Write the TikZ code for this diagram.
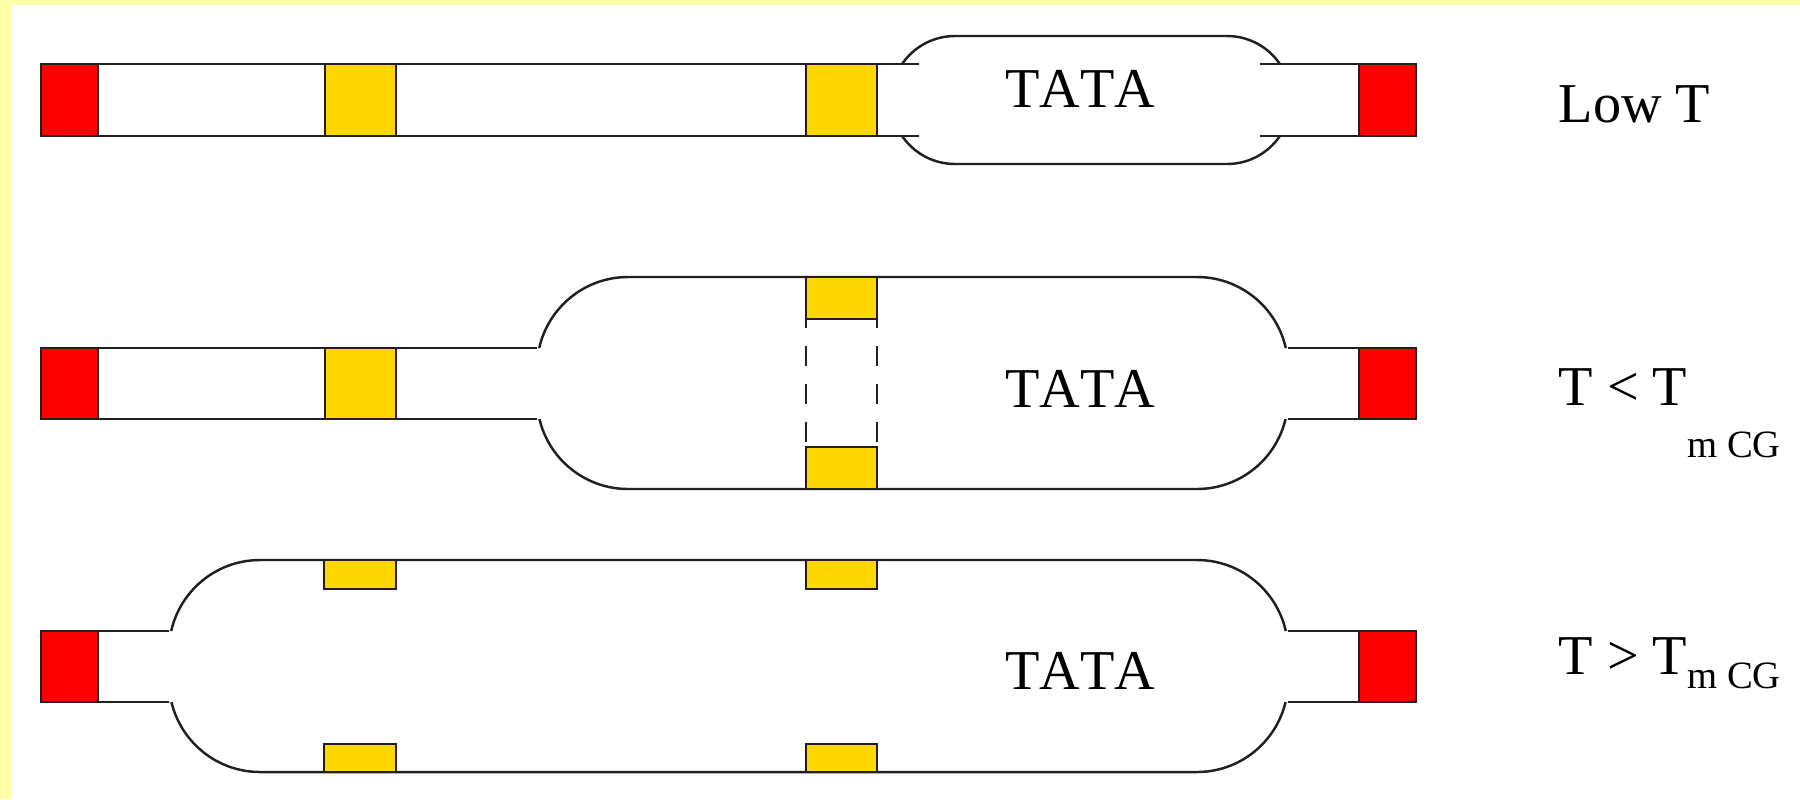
\documentclass[tikz,border=0pt]{standalone}
\usepackage{fontspec}
\setmainfont{Liberation Serif}[Kerning=Off]
\definecolor{bgyellow}{RGB}{255,255,165}
\definecolor{goldfill}{RGB}{255,215,0}
\definecolor{ink}{RGB}{35,31,32}
\tikzset{
  strand/.style={draw=ink, line width=0.7pt},
  redbox/.style={strand, fill=red},
  goldbox/.style={strand, fill=goldfill},
  bubble/.style={strand},
  melt/.style={strand, dash pattern=on 5.5pt off 5.3pt, dash phase=3pt},
  lbl/.style={font=\fontsize{16}{19}\selectfont, inner sep=0pt, anchor=base west},
  tata/.style={font=\fontsize{16}{19}\selectfont, inner sep=0pt, anchor=base},
}
\newcommand{\subCG}[1]{\raisebox{#1}{\fontsize{11}{13}\selectfont m CG}}
\begin{document}
\begin{tikzpicture}[x=0.01cm,y=0.01cm]
\useasboundingbox (0,0) rectangle (1800,-799);
\fill[white] (0,0) rectangle (1800,-799);
\fill[bgyellow] (0,0) rectangle (1800,-5);
\fill[bgyellow] (0,0) rectangle (11,-799);

% ---------- Row 1: Low T ----------
\begin{scope}
  \clip (0,0) rectangle (1800,-64) (0,-136) rectangle (1800,-799);
  \draw[bubble, rounded corners=0.64cm] (891,-36) rectangle (1291,-164);
\end{scope}
\draw[strand] (41,-64) -- (919,-64) (41,-136) -- (919,-136);
\draw[strand] (1260,-64) -- (1416,-64) (1260,-136) -- (1416,-136);
\draw[redbox] (41,-64) rectangle (98,-136);
\draw[goldbox] (325,-64) rectangle (396,-136);
\draw[goldbox] (806,-64) rectangle (877,-136);
\draw[redbox] (1359,-64) rectangle (1416,-136);
\node[tata] (tata1) at (1080,-107) {TATA};
\node[lbl] (lab1) at (1558,-122) {Low T};

% ---------- Row 2: T < Tm CG ----------
\begin{scope}
  \clip (0,0) rectangle (1800,-348) (0,-419) rectangle (1800,-799);
  \draw[bubble, rounded corners=0.91cm] (537,-277) rectangle (1288,-489);
\end{scope}
\draw[strand] (41,-348) -- (537,-348) (41,-419) -- (537,-419);
\draw[strand] (1288,-348) -- (1416,-348) (1288,-419) -- (1416,-419);
\draw[redbox] (41,-348) rectangle (98,-419);
\draw[goldbox] (325,-348) rectangle (396,-419);
\draw[goldbox] (806,-277) rectangle (877,-319);
\draw[goldbox] (806,-447) rectangle (877,-489);
\draw[melt] (806,-319) -- (806,-447);
\draw[melt] (877,-319) -- (877,-447);
\draw[redbox] (1359,-348) rectangle (1416,-419);
\node[tata] (tata2) at (1080,-407) {TATA};
\node[lbl] (lab2) at (1558,-405) {T < T\subCG{-15pt}};

% ---------- Row 3: T > Tm CG ----------
\begin{scope}
  \clip (0,0) rectangle (1800,-631) (0,-702) rectangle (1800,-799);
  \draw[bubble, rounded corners=0.91cm] (169,-560) rectangle (1288,-772);
\end{scope}
\draw[strand] (41,-631) -- (169,-631) (41,-702) -- (169,-702);
\draw[strand] (1288,-631) -- (1416,-631) (1288,-702) -- (1416,-702);
\draw[redbox] (41,-631) rectangle (98,-702);
\draw[goldbox] (324,-560) rectangle (396,-589);
\draw[goldbox] (806,-560) rectangle (877,-589);
\draw[goldbox] (324,-744) rectangle (396,-772);
\draw[goldbox] (806,-744) rectangle (877,-772);
\draw[redbox] (1359,-631) rectangle (1416,-702);
\node[tata] (tata3) at (1080,-689) {TATA};
\node[lbl] (lab3) at (1558,-674) {T > T\subCG{-4pt}};
\end{tikzpicture}
\end{document}
